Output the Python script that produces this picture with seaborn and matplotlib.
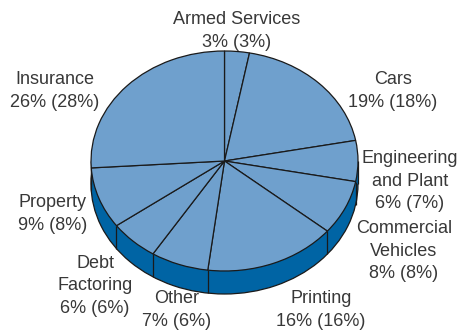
import matplotlib
matplotlib.use("Agg")
import matplotlib.pyplot as plt
from matplotlib.patches import Rectangle
import numpy as np
import seaborn as sns

sns.set_theme(style="white")
plt.rcParams["font.family"] = ["Liberation Sans", "DejaVu Sans"]

# Share of each sector, clockwise from twelve o'clock
sectors = ["Armed Services", "Cars", "Engineering\nand Plant", "Commercial\nVehicles",
           "Printing", "Other", "Debt\nFactoring", "Property", "Insurance"]
shares = [3, 19, 6, 8, 16, 7, 6, 9, 26]
previous = [3, 18, 7, 8, 16, 6, 6, 8, 28]

# label anchor points (pixels from top-left)
label_pos = [(237, 31), (393, 91), (410, 181), (404, 251), (321, 310),
             (177, 310), (95, 286), (53, 214), (55, 91)]

W, H = 457, 331
cx, cy = 224.5, 161.0
a, b = 133.5, 110.0
depth = 23.0
k = b / a  # vertical squash of the tilted disc

top_color = "#6fa0cd"
side_color = "#0064a4"
edge = "#1a1a1a"
text_color = "#383838"


def to_data(px, py):
    return px, (H - py) / k


fig = plt.figure(figsize=(W / 100, H / 100), dpi=100)
ax = fig.add_axes([0, 0, 1, 1])

# side wall of the disc
bx, by = to_data(cx, cy + depth)
ax.pie([1], colors=[side_color], center=(bx, by), radius=a, frame=True,
       wedgeprops=dict(edgecolor=edge, linewidth=0.9, zorder=1))
x0, y0 = to_data(cx - a, cy + depth)
_, y1 = to_data(cx - a, cy)
ax.add_patch(Rectangle((x0, y0), 2 * a, y1 - y0, facecolor=side_color,
                       edgecolor="none", zorder=2))
ax.vlines([cx - a, cx + a], y0, y1, colors=edge, linewidth=0.9, zorder=2.5)

# seams on the visible side wall at each slice boundary
bounds = np.cumsum(shares) / sum(shares)
for f in bounds:
    th = 2 * np.pi * f
    if np.cos(th) < 0:
        px = cx + a * np.sin(th)
        py = cy - b * np.cos(th)
        _, ya = to_data(px, py)
        _, yb = to_data(px, py + depth)
        ax.vlines(px, yb, ya, colors=edge, linewidth=0.9, zorder=2.5)

# top face
tx, ty = to_data(cx, cy)
ax.pie(shares, colors=[top_color] * len(shares), center=(tx, ty), radius=a,
       startangle=90, counterclock=False, frame=True,
       wedgeprops=dict(edgecolor=edge, linewidth=0.9, zorder=3))

for name, s, p, (lx, ly) in zip(sectors, shares, previous, label_pos):
    x, y = to_data(lx, ly)
    ax.text(x, y, f"{name}\n{s}% ({p}%)", ha="center", va="center",
            fontsize=13, color=text_color, linespacing=1.4, zorder=5)

ax.set_aspect("auto")
ax.set_xlim(0, W)
ax.set_ylim(0, H / k)
ax.axis("off")

fig.savefig("out.png", dpi=100)
